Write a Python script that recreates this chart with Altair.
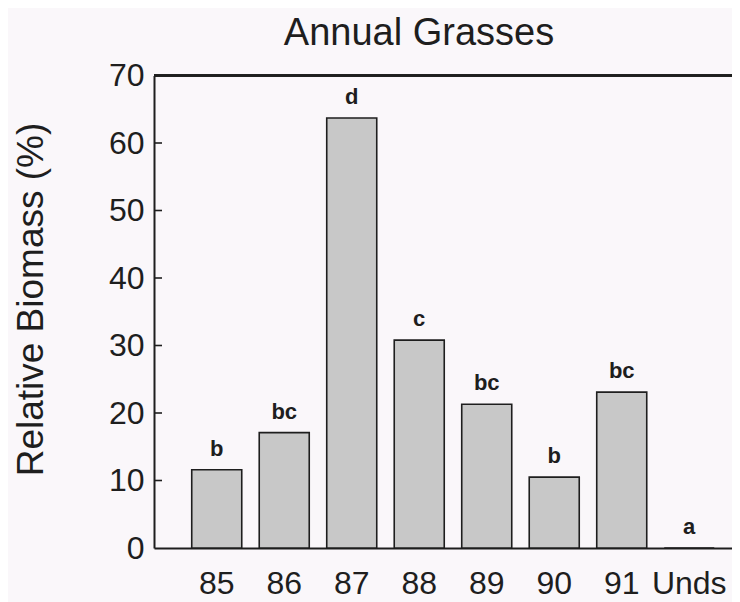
import altair as alt
import pandas as pd

# ---- data ----
years = ["85", "86", "87", "88", "89", "90", "91", "Unds"]
biomass = [11.6, 17.1, 63.7, 30.8, 21.3, 10.5, 23.1, 0.0]
letters = ["b", "bc", "d", "c", "bc", "b", "bc", "a"]
y_ticks = [0, 10, 20, 30, 40, 50, 60, 70]
inner_ticks = [10, 20, 30, 40, 50, 60]
title_text = "Annual Grasses"
y_title = "Relative Biomass (%)"

df = pd.DataFrame({"year": years, "biomass": biomass, "letter": letters})
ticks_df = pd.DataFrame({"v": inner_ticks})
title_df = pd.DataFrame({"t": [title_text]})

FONT = "Liberation Sans"
INK = "#1e1e1e"

x_enc = alt.X(
    "year:N",
    sort=years,
    scale=alt.Scale(paddingInner=0.259, paddingOuter=0.411, align=0.68),
    axis=alt.Axis(
        title=None, labelAngle=0, labelFont=FONT, labelFontSize=32,
        labelColor=INK, ticks=False, tickSize=0, labelPadding=20,
        domainColor=INK, domainWidth=2, grid=False,
    ),
)
y_scale = alt.Scale(domain=[0, 70], nice=False, zero=True)

bars = alt.Chart(df).mark_bar(
    fill="#c8c8c8", stroke=INK, strokeWidth=1.6
).encode(
    x=x_enc,
    y=alt.Y(
        "biomass:Q", scale=y_scale,
        axis=alt.Axis(
            values=y_ticks, title=y_title, titleFont=FONT, titleFontSize=37,
            titleFontWeight="normal", titleColor=INK, titleAngle=270,
            titleAlign="center", titleBaseline="middle", titleX=-123, titleY=223.5,
            labelFont=FONT, labelFontSize=32, labelColor=INK, ticks=False,
            tickSize=0, labelPadding=10, domainColor=INK, domainWidth=2, grid=False,
        ),
    ),
)

labels = alt.Chart(df).mark_text(
    font=FONT, fontSize=22, fontWeight="bold", color=INK, baseline="bottom", dy=-9
).encode(
    x=alt.X("year:N", sort=years),
    y=alt.Y("biomass:Q", scale=y_scale),
    text="letter:N",
)

tick_rules = alt.Chart(ticks_df).mark_rule(color=INK, strokeWidth=1.6).encode(
    y=alt.Y("v:Q", scale=y_scale),
    x=alt.value(0),
    x2=alt.value(8),
)

top_rule = alt.Chart(ticks_df).mark_rule(color=INK, strokeWidth=2).encode(
    y=alt.datum(70),
)

title_mark = alt.Chart(title_df).mark_text(
    font=FONT, fontSize=38, color=INK, align="center", baseline="alphabetic"
).encode(
    x=alt.value(265),
    y=alt.value(-30.5),
    text="t:N",
)

chart = alt.layer(bars, labels, tick_rules, top_rule, title_mark).properties(
    width=578,
    height=472.5,
    autosize=alt.AutoSizeParams(type="none"),
    padding={"left": 146, "top": 67.5, "right": 0, "bottom": 54},
    background="#faf7fa",
).configure_view(stroke=None)

chart.save("out.html", embed_options={"renderer": "svg", "actions": False})
